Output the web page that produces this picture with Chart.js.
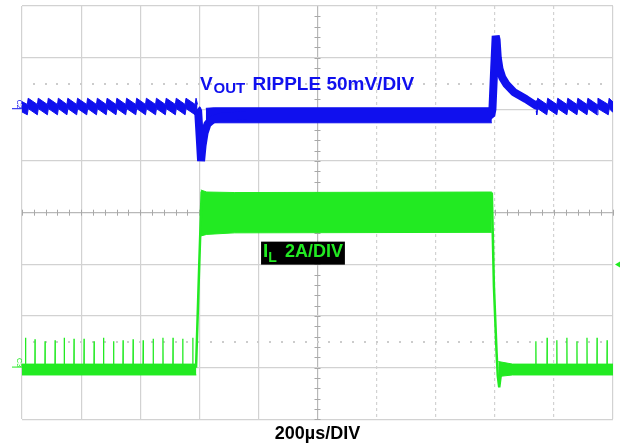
<!DOCTYPE html>
<html>
<head>
<meta charset="utf-8">
<script src="https://cdn.jsdelivr.net/npm/chart.js@4.4.1/dist/chart.umd.min.js"></script>
<style>
  html, body { margin: 0; padding: 0; background: #fff; }
  #wrap { position: relative; width: 621px; height: 445px; }
</style>
</head>
<body>
<div id="wrap"><canvas id="scope"></canvas></div>
<script>
// time in µs (200µs/DIV), levels in screen divisions (0 = bottom graticule line, 8 = top)

// IL: switching pulses (light load) before and after the load step
const ilPulsesA = [12, 44, 78, 112, 143, 176, 210, 244, 276, 310, 342, 376, 410, 444, 477, 511, 544, 578];
const ilPulseTopsA = [1.58, 1.55, 1.51, 1.53, 1.58, 1.56, 1.56, 1.51, 1.58, 1.51, 1.53, 1.55, 1.53, 1.56, 1.58, 1.58, 1.56, 1.58];
const ilPulsesB = [1739, 1777, 1810, 1844, 1878, 1912, 1946, 1980];
const ilPulseTopsB = [1.51, 1.58, 1.53, 1.58, 1.51, 1.58, 1.58, 1.53];

// IL: noise bands (light load / heavy load)
const ilLowA_T = [0, 590];
const ilLowB_T = [1612, 1660, 2000];
const ilLowB_Top = [1.12, 1.07, 1.07];
const ilLowB_Bot = [0.83, 0.86, 0.86];
const ilLowTop = 1.07;
const ilLowBot = 0.86;
const ilHighT = [605, 625, 720, 1590];
const ilHighTop = [4.44, 4.40, 4.39, 4.40];
const ilHighBot = [3.55, 3.58, 3.61, 3.62];

// IL: edges
const ilRiseT = [589, 600, 608];
const ilRiseV = [1.00, 3.03, 4.41];
const ilFallT = [1590, 1597, 1606, 1610, 1615, 1620, 1624];
const ilFallV = [4.39, 2.58, 1.29, 0.85, 0.62, 0.85, 1.00];

// VOUT ripple teeth (rise times), centre levels and band half-width
const vTeethA = [18, 52, 86, 120, 152, 185, 219, 252, 285, 318, 351, 385, 418, 452, 485, 519, 552, 586];
const vTeethB = [1742, 1776, 1810, 1844, 1878, 1912, 1946, 1984];
const vPeak = 6.115;
const vTrough = 5.995;
const vHalf = 0.10;

// VOUT transients
const vLoadT = [592, 596, 601, 606, 611, 618, 628, 645, 680, 760, 1588];
const vLoadV = [6.00, 5.98, 5.50, 5.00, 5.30, 5.55, 5.72, 5.80, 5.86, 5.88, 5.88];
const vUnloadT = [1592, 1598, 1603, 1606, 1610, 1616, 1625, 1640, 1665, 1705, 1740, 1744];
const vUnloadV = [6.00, 6.80, 7.42, 7.35, 7.00, 6.78, 6.62, 6.48, 6.33, 6.20, 6.07, 6.07];
const vBandT = [622, 650, 1590];
const vBandTop = [6.02, 6.03, 6.03];
const vBandBot = [5.70, 5.74, 5.74];

const BLUE = '#1010ee';
const GREEN = '#22ea22';
const FONT = '"Liberation Sans", Arial, sans-serif';

function pts(xs, ys) {
  return xs.map((x, i) => ({ x: x, y: Array.isArray(ys) ? ys[i] : ys }));
}

function spikes(times, tops, base) {
  const out = [];
  times.forEach((t, i) => {
    out.push({ x: t - 0.6, y: base }, { x: t, y: tops[i] }, { x: t + 0.6, y: base });
  });
  return out;
}

// sawtooth edge: sharp rise at each tooth, slow sag until the next one
function ripple(teeth, start, startLevel, end, endLevel, shift) {
  const out = [{ x: start, y: startLevel + shift }];
  teeth.forEach(t => {
    out.push({ x: t, y: vTrough + shift }, { x: t + 3, y: vPeak + shift });
  });
  out.push({ x: end, y: endLevel + shift });
  return out;
}

function line(data, color, width) {
  return {
    data: data, borderColor: color, borderWidth: width, pointRadius: 0, fill: false, tension: 0,
    borderJoinStyle: 'bevel', borderCapStyle: 'butt'
  };
}
function bandTop(data, color) {
  return { data: data, borderColor: color, backgroundColor: color, borderWidth: 1, pointRadius: 0, fill: '+1', tension: 0 };
}

const overlay = {
  id: 'overlay',
  beforeDatasetsDraw(chart) {
    const { ctx, chartArea: a, scales: { x, y } } = chart;
    ctx.save();
    ctx.strokeStyle = '#a8a8a8';
    ctx.lineWidth = 1;
    const xc = x.getPixelForValue(1000);
    const yc = y.getPixelForValue(4);
    for (let v = 0; v <= 8; v += 0.2) {
      const p = Math.round(y.getPixelForValue(v)) + 0.5;
      ctx.beginPath(); ctx.moveTo(xc - 3, p); ctx.lineTo(xc + 3, p); ctx.stroke();
    }
    for (let t = 0; t <= 2000; t += 40) {
      const p = Math.round(x.getPixelForValue(t)) + 0.5;
      ctx.beginPath(); ctx.moveTo(p, yc - 3); ctx.lineTo(p, yc + 3); ctx.stroke();
    }
    // dotted marker rows
    ctx.fillStyle = '#cccccc';
    [6.5, 1.5].forEach(v => {
      const p = y.getPixelForValue(v);
      for (let t = 40; t < 2000; t += 40) {
        ctx.fillRect(Math.round(x.getPixelForValue(t)) - 1, Math.round(p) - 1, 2, 2);
      }
    });
    ctx.restore();
  },
  afterDatasetsDraw(chart) {
    const { ctx, chartArea: a, scales: { x, y } } = chart;
    ctx.save();
    ctx.textBaseline = 'alphabetic';

    // VOUT label
    let px = x.getPixelForValue(602), py = y.getPixelForValue(6.377);
    ctx.fillStyle = BLUE;
    ctx.font = 'bold 19px ' + FONT;
    ctx.fillText('V', px, py);
    px += ctx.measureText('V').width + 1;
    ctx.font = 'bold 15px ' + FONT;
    ctx.fillText('OUT', px, py + 3);
    px += ctx.measureText('OUT').width + 2;
    ctx.font = 'bold 19px ' + FONT;
    ctx.fillText(' RIPPLE 50mV/DIV', px, py);

    // IL label on black
    let lx = x.getPixelForValue(809), ly = y.getPixelForValue(3.44);
    ctx.font = 'bold 19px ' + FONT;
    const wI = ctx.measureText('I').width;
    ctx.font = 'bold 14px ' + FONT;
    const wL = ctx.measureText('L').width;
    ctx.font = 'bold 18px ' + FONT;
    const wRest = ctx.measureText(' 2A/DIV').width;
    const boxW = 2 + wI + wL + 3 + wRest + 2;
    ctx.fillStyle = '#000';
    ctx.fillRect(lx, ly, boxW, 23);
    ctx.fillStyle = GREEN;
    ctx.font = 'bold 19px ' + FONT;
    ctx.fillText('I', lx + 2, ly + 15);
    ctx.font = 'bold 14px ' + FONT;
    ctx.fillText('L', lx + 2 + wI, ly + 20);
    ctx.font = 'bold 18px ' + FONT;
    ctx.fillText(' 2A/DIV', lx + 5 + wI + wL, ly + 15);

    // channel ground markers
    [[6.08, BLUE, 'C2'], [1.08, GREEN, 'C3']].forEach(([v, c, s]) => {
      const p = y.getPixelForValue(v);
      ctx.save();
      ctx.translate(a.left - 5, p);
      ctx.rotate(Math.PI / 2);
      ctx.fillStyle = c;
      ctx.font = '7px ' + FONT;
      ctx.textAlign = 'center';
      ctx.fillText(s, -1, 0);
      ctx.restore();
      ctx.strokeStyle = c;
      ctx.lineWidth = 1;
      ctx.beginPath(); ctx.moveTo(a.left - 10, p + 3.5); ctx.lineTo(a.left, p + 3.5); ctx.stroke();
    });

    // trigger level arrow
    const ty = y.getPixelForValue(3.0);
    ctx.fillStyle = GREEN;
    ctx.beginPath();
    ctx.moveTo(a.right + 2, ty);
    ctx.lineTo(a.right + 7, ty - 3);
    ctx.lineTo(a.right + 7, ty + 3);
    ctx.closePath();
    ctx.fill();
    ctx.restore();
  }
};

new Chart(document.getElementById('scope'), {
  type: 'line',
  data: {
    datasets: [
      line(pts(ilRiseT, ilRiseV), GREEN, 2.5),
      line(pts(ilFallT, ilFallV), GREEN, 2.5),
      line(pts(vLoadT, vLoadV).concat(pts(vUnloadT, vUnloadV)), BLUE, 8),
      bandTop(pts(vBandT, vBandTop), BLUE),
      line(pts(vBandT, vBandBot), BLUE, 1),
      bandTop(ripple(vTeethA, 0, 6.05, 594, vTrough, vHalf), BLUE),
      line(ripple(vTeethA, 0, 6.05, 594, vTrough, -vHalf), BLUE, 1),
      bandTop(ripple(vTeethB, 1740, 6.07, 2000, 6.04, vHalf), BLUE),
      line(ripple(vTeethB, 1740, 6.07, 2000, 6.04, -vHalf), BLUE, 1),
      line(spikes(ilPulsesA, ilPulseTopsA, 1.0), GREEN, 1.3),
      line(spikes(ilPulsesB, ilPulseTopsB, 1.0), GREEN, 1.3),
      bandTop(pts(ilLowA_T, ilLowTop), GREEN),
      line(pts(ilLowA_T, ilLowBot), GREEN, 1),
      bandTop(pts(ilLowB_T, ilLowB_Top), GREEN),
      line(pts(ilLowB_T, ilLowB_Bot), GREEN, 1),
      bandTop(pts(ilHighT, ilHighTop), GREEN),
      line(pts(ilHighT, ilHighBot), GREEN, 1)
    ]
  },
  options: {
    responsive: true,
    maintainAspectRatio: false,
    animation: false,
    events: [],
    layout: { padding: { left: 22, right: 8, top: 6, bottom: 0 } },
    plugins: { legend: { display: false }, tooltip: { enabled: false } },
    scales: {
      x: {
        type: 'linear', min: 0, max: 2000,
        ticks: { display: false, stepSize: 200 },
        grid: {
          drawTicks: false, lineWidth: 1.2,
          color: c => c.tick && c.tick.value === 1000 ? '#b8b8b8' : '#d2d2d2'
        },
        border: {
          display: false,
          dash: c => (c.tick && c.tick.value > 1000 && c.tick.value < 2000) ? [3, 3] : []
        },
        title: {
          display: true, text: '200µs/DIV', color: '#000',
          font: { family: FONT, size: 18, weight: 'bold' },
          padding: { top: 4, bottom: 0 }
        }
      },
      y: {
        min: 0, max: 8,
        ticks: { display: false, stepSize: 1 },
        grid: {
          drawTicks: false, lineWidth: 1.2,
          color: c => c.tick && c.tick.value === 4 ? '#b8b8b8' : '#d2d2d2'
        },
        border: { display: false }
      }
    }
  },
  plugins: [overlay]
});
</script>
</body>
</html>
